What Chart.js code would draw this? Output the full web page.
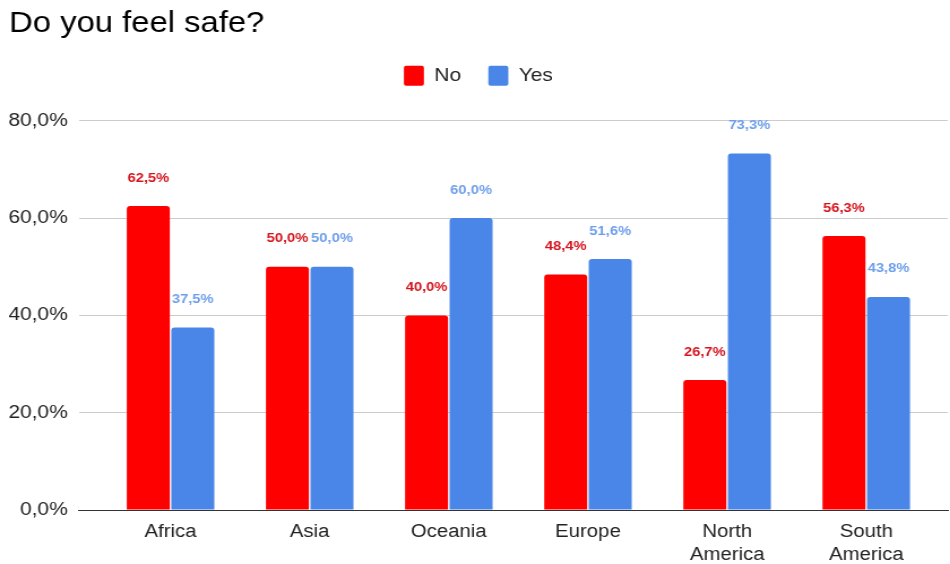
<!DOCTYPE html>
<html>
<head>
    <meta charset="UTF-8">
    <title>Do you feel safe?</title>
    <script src="https://cdn.jsdelivr.net/npm/chart.js"></script>
    <style>
        body { margin: 0; background: #fff; overflow: hidden; }
        /* the original picture is wider than its text height suggests, so stretch the canvas */
        #wrap { width: 840px; height: 564px; position: relative; transform: scaleX(1.131); transform-origin: left top; }
    </style>
</head>
<body>
    <div id="wrap"><canvas id="safeChart"></canvas></div>
    <script>
        // data
        const regions = ['Africa', 'Asia', 'Oceania', 'Europe', ['North', 'America'], ['South', 'America']];
        const noValues = [62.5, 50.0, 40.0, 48.4, 26.7, 56.3];
        const yesValues = [37.5, 50.0, 60.0, 51.6, 73.3, 43.8];
        const yTicks = [0, 20, 40, 60, 80];

        const FONT = 'Arial, "Liberation Sans", sans-serif';
        const fmt = v => v.toFixed(1).replace('.', ',') + '%';
        const points = vals => vals.map((v, i) => ({ x: i, y: v }));

        // value above each bar, in the series colour
        const valueLabels = {
            id: 'valueLabels',
            afterDatasetsDraw(chart) {
                const ctx = chart.ctx;
                ctx.save();
                ctx.font = 'bold 13px ' + FONT;
                ctx.textAlign = 'center';
                ctx.textBaseline = 'middle';
                chart.data.datasets.forEach((ds, i) => {
                    chart.getDatasetMeta(i).data.forEach((bar, j) => {
                        ctx.fillStyle = ds.labelColor;
                        ctx.fillText(fmt(ds.data[j].y), bar.x, bar.y - 28);
                    });
                });
                ctx.restore();
            }
        };

        // room between legend and plot
        const legendGap = {
            id: 'legendGap',
            beforeInit(chart) {
                const fit = chart.legend.fit;
                chart.legend.fit = function () {
                    fit.bind(chart.legend)();
                    this.height += 25;
                };
            }
        };

        new Chart(document.getElementById('safeChart'), {
            type: 'bar',
            data: {
                datasets: [
                    { label: 'No', data: points(noValues), backgroundColor: '#ff0000', labelColor: '#d4141e', borderRadius: { topLeft: 3, topRight: 3 }, borderSkipped: 'bottom' },
                    { label: 'Yes', data: points(yesValues), backgroundColor: '#4a86e8', labelColor: '#6d9eeb', borderRadius: { topLeft: 3, topRight: 3 }, borderSkipped: 'bottom' }
                ]
            },
            options: {
                responsive: true,
                maintainAspectRatio: false,
                animation: false,
                categoryPercentage: 0.64,
                barPercentage: 0.966,
                layout: { padding: { left: 8, right: 2, top: 0, bottom: 0 } },
                plugins: {
                    title: {
                        display: true,
                        text: 'Do you feel safe?',
                        align: 'start',
                        color: '#000',
                        font: { family: FONT, size: 29, weight: 'normal' },
                        padding: { top: 7, bottom: 0 }
                    },
                    legend: {
                        display: true,
                        position: 'top',
                        labels: {
                            color: '#222',
                            font: { family: FONT, size: 18.5 },
                            boxWidth: 17.7,
                            boxHeight: 20,
                            padding: 24,
                            useBorderRadius: true,
                            borderRadius: 2
                        }
                    },
                    tooltip: { enabled: false }
                },
                scales: {
                    x: {
                        type: 'linear',
                        offset: false,
                        // gridlines run past the first and last group, as in the original
                        min: -0.658,
                        max: 5.586,
                        afterBuildTicks(scale) { scale.ticks = regions.map((_, i) => ({ value: i })); },
                        afterFit(scale) { scale.height = 54; },
                        grid: { display: false, drawTicks: false },
                        border: { display: true, color: '#333', width: 1 },
                        ticks: {
                            color: '#222',
                            font: { family: FONT, size: 18, lineHeight: 1.3 },
                            padding: 10,
                            maxRotation: 0,
                            autoSkip: false,
                            callback: v => regions[v]
                        }
                    },
                    y: {
                        min: 0,
                        max: 80,
                        afterBuildTicks(scale) { scale.ticks = yTicks.map(v => ({ value: v })); },
                        afterFit(scale) { scale.width = 61.85; },
                        grid: { color: '#cccccc', drawTicks: false },
                        border: { display: false },
                        ticks: { color: '#222', font: { family: FONT, size: 18.5 }, padding: 10, callback: v => fmt(v) }
                    }
                }
            },
            plugins: [valueLabels, legendGap]
        });
    </script>
</body>
</html>
